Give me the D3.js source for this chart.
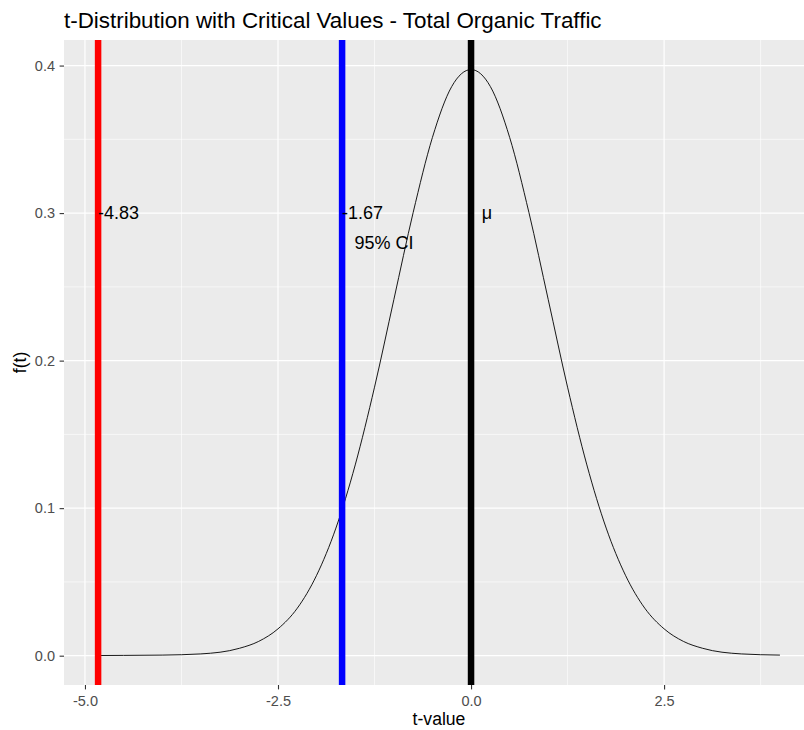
<!DOCTYPE html>
<html>
<head>
<meta charset="utf-8">
<script src="https://cdn.jsdelivr.net/npm/d3@7"></script>
<style>
  body { margin: 0; background: #ffffff; }
  text { font-family: "Liberation Sans", Arial, sans-serif; }
</style>
</head>
<body>
<svg id="chart" width="804" height="730"></svg>
<script>
// t-distribution density curve
const tValues = [-4.83, -4.5, -4, -3.5, -3, -2.75, -2.5, -2.25, -2, -1.75, -1.5, -1.25, -1, -0.75, -0.5, -0.25,
                 0, 0.25, 0.5, 0.75, 1, 1.25, 1.5, 1.75, 2, 2.25, 2.5, 2.75, 3, 3.5, 4];
const density = [0.0001, 0.0002, 0.0004, 0.0012, 0.0050, 0.0097, 0.0182, 0.0322, 0.0545, 0.0865, 0.1293, 0.1820, 0.2413, 0.3003, 0.3513, 0.3858,
                 0.3973, 0.3858, 0.3513, 0.3003, 0.2413, 0.1820, 0.1293, 0.0865, 0.0545, 0.0322, 0.0182, 0.0097, 0.0050, 0.0012, 0.0004];

// critical values: observed t, one-sided 95% bound, mean
const critValues = [-4.83, -1.67, 0];

// text annotations
const labelText = ["-4.83", "-1.67", "95% CI", "\u03bc"];
const labelX = [-4.83, -1.67, -1.51, 0.14];
const labelY = [0.3, 0.3, 0.28, 0.3];

// axis ticks
const xTicks = [-5, -2.5, 0, 2.5];
const xTickLabels = ["-5.0", "-2.5", "0.0", "2.5"];
const xMinor = [-3.75, -1.25, 1.25, 3.75];
const yTicks = [0, 0.1, 0.2, 0.3, 0.4];
const yTickLabels = ["0.0", "0.1", "0.2", "0.3", "0.4"];
const yMinor = [0.05, 0.15, 0.25, 0.35];

const titleText = "t-Distribution with Critical Values - Total Organic Traffic";
const xTitle = "t-value";
const yTitle = "f(t)";

const lineColors = ["#FF0000", "#0000FF", "#000000"];

const svg = d3.select("#chart");
const panel = { left: 64, right: 814, top: 40, bottom: 685 };

const x = d3.scaleLinear().domain([-5.2715, 4.4415]).range([panel.left, panel.right]);
const y = d3.scaleLinear().domain([-0.01987, 0.41733]).range([panel.bottom, panel.top]);

svg.append("defs").append("clipPath").attr("id", "panelClip")
  .append("rect")
  .attr("x", panel.left).attr("y", panel.top)
  .attr("width", panel.right - panel.left).attr("height", panel.bottom - panel.top);

// panel background
svg.append("rect")
  .attr("x", panel.left).attr("y", panel.top)
  .attr("width", panel.right - panel.left).attr("height", panel.bottom - panel.top)
  .attr("fill", "#EBEBEB");

const grid = svg.append("g").attr("clip-path", "url(#panelClip)");
// minor grid
grid.selectAll("line.xminor").data(xMinor).join("line")
  .attr("x1", d => x(d)).attr("x2", d => x(d))
  .attr("y1", panel.top).attr("y2", panel.bottom)
  .attr("stroke", "#ffffff").attr("stroke-width", 0.6);
grid.selectAll("line.yminor").data(yMinor).join("line")
  .attr("y1", d => y(d)).attr("y2", d => y(d))
  .attr("x1", panel.left).attr("x2", panel.right)
  .attr("stroke", "#ffffff").attr("stroke-width", 0.6);
// major grid
grid.selectAll("line.xmajor").data(xTicks).join("line")
  .attr("x1", d => x(d)).attr("x2", d => x(d))
  .attr("y1", panel.top).attr("y2", panel.bottom)
  .attr("stroke", "#ffffff").attr("stroke-width", 1.2);
grid.selectAll("line.ymajor").data(yTicks).join("line")
  .attr("y1", d => y(d)).attr("y2", d => y(d))
  .attr("x1", panel.left).attr("x2", panel.right)
  .attr("stroke", "#ffffff").attr("stroke-width", 1.2);

const plot = svg.append("g").attr("clip-path", "url(#panelClip)");

// density curve
const curvePoints = tValues.map((t, i) => [t, density[i]]);
plot.append("path")
  .datum(curvePoints)
  .attr("fill", "none")
  .attr("stroke", "#000000")
  .attr("stroke-width", 0.9)
  .attr("d", d3.line().x(d => x(d[0])).y(d => y(d[1])).curve(d3.curveMonotoneX));

// critical value lines
plot.selectAll("line.crit").data(critValues).join("line")
  .attr("x1", d => x(d)).attr("x2", d => x(d))
  .attr("y1", panel.top).attr("y2", panel.bottom)
  .attr("stroke", (d, i) => lineColors[i])
  .attr("stroke-width", 6.5);

// annotations
plot.selectAll("text.ann").data(labelText).join("text")
  .attr("x", (d, i) => x(labelX[i]))
  .attr("y", (d, i) => y(labelY[i]))
  .attr("dy", "0.35em")
  .attr("text-anchor", "start")
  .attr("font-size", 18)
  .attr("fill", "#000000")
  .text(d => d);

// x axis
const xAxis = svg.append("g")
  .attr("transform", `translate(0,${panel.bottom})`)
  .call(d3.axisBottom(x).tickValues(xTicks).tickFormat((d, i) => xTickLabels[i])
    .tickSize(4.4).tickPadding(6.3));
xAxis.select(".domain").remove();
xAxis.selectAll("line").attr("stroke", "#333333").attr("stroke-width", 1.1);
xAxis.selectAll("text").attr("fill", "#4D4D4D").attr("font-size", 14.5)
  .attr("font-family", "Liberation Sans, Arial, sans-serif");

// y axis
const yAxis = svg.append("g")
  .attr("transform", `translate(${panel.left},0)`)
  .call(d3.axisLeft(y).tickValues(yTicks).tickFormat((d, i) => yTickLabels[i])
    .tickSize(4.4).tickPadding(4.6));
yAxis.select(".domain").remove();
yAxis.selectAll("line").attr("stroke", "#333333").attr("stroke-width", 1.1);
yAxis.selectAll("text").attr("fill", "#4D4D4D").attr("font-size", 14.5)
  .attr("font-family", "Liberation Sans, Arial, sans-serif");

// titles
svg.append("text")
  .attr("x", panel.left).attr("y", 28)
  .attr("font-size", 22.4).attr("fill", "#000000")
  .text(titleText);

svg.append("text")
  .attr("x", (panel.left + panel.right) / 2).attr("y", 725)
  .attr("text-anchor", "middle")
  .attr("font-size", 17.6).attr("fill", "#000000")
  .text(xTitle);

svg.append("text")
  .attr("transform", `translate(26,${(panel.top + panel.bottom) / 2}) rotate(-90)`)
  .attr("text-anchor", "middle")
  .attr("font-size", 17.6).attr("fill", "#000000")
  .text(yTitle);
</script>
</body>
</html>
